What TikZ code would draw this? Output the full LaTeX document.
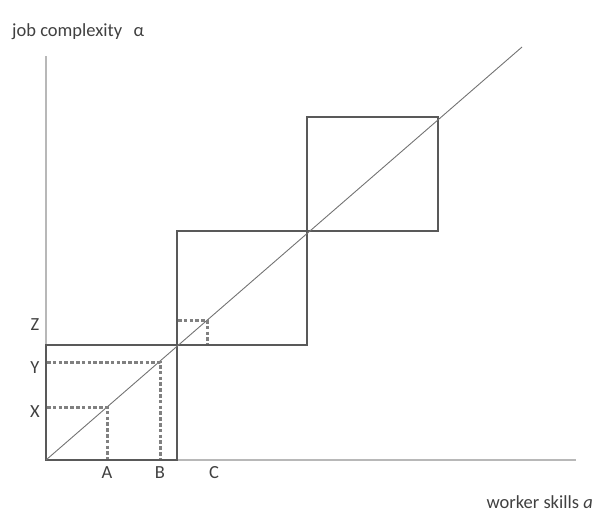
\documentclass[tikz,border=0pt]{standalone}
\usepackage{fontspec}
\setmainfont{Carlito}
\begin{document}
\begin{tikzpicture}[x=1pt,y=-1pt,
  axis/.style={draw=black!28,line width=1.8pt},
  boxline/.style={draw=black!65,line width=2.4pt},
  diag/.style={draw=black!55,line width=0.9pt},
  dots/.style={draw=black!50,line width=3pt,dash pattern=on 3.5pt off 2.3pt},
  lbl/.style={text=black!75,font=\fontsize{18.5}{20}\selectfont,inner sep=0pt}]
\useasboundingbox (0,0) rectangle (599,512);
\coordinate (O) at (46,460);
\coordinate (ytop) at (46,56);
\coordinate (xend) at (576,460);
\coordinate (dend) at (522,47);
\coordinate (p1) at (177,345);
\coordinate (p2) at (307,231);
\coordinate (p3) at (438,117);
\draw[axis] (ytop) -- (O) -- (xend);
\draw[boxline] (O) rectangle (p1);
\draw[boxline] (p1) rectangle (p2);
\draw[boxline] (p2) rectangle (p3);
\draw[diag] (O) -- (dend);
\coordinate (xa) at (107,407);
\coordinate (yb) at (160,362);
\coordinate (zc) at (207,320);
\draw[dots] (47,407) -- (xa) -- (107,459);
\draw[dots] (47,362) -- (yb) -- (160,459);
\draw[dots] (178,320) -- (zc) -- (207,344);
\node[lbl] (X) at (35,412) {X};
\node[lbl] (Y) at (35,368) {Y};
\node[lbl] (Z) at (35,325) {Z};
\node[lbl] (A) at (107,473) {A};
\node[lbl] (B) at (160,473) {B};
\node[lbl] (C) at (214,473) {C};
\node[lbl,anchor=west] (ylab) at (12,32) {job complexity\ \ \,α};
\node[lbl,anchor=east] (xlab) at (593,502) {worker skills \textit{a}\/};
\end{tikzpicture}
\end{document}
